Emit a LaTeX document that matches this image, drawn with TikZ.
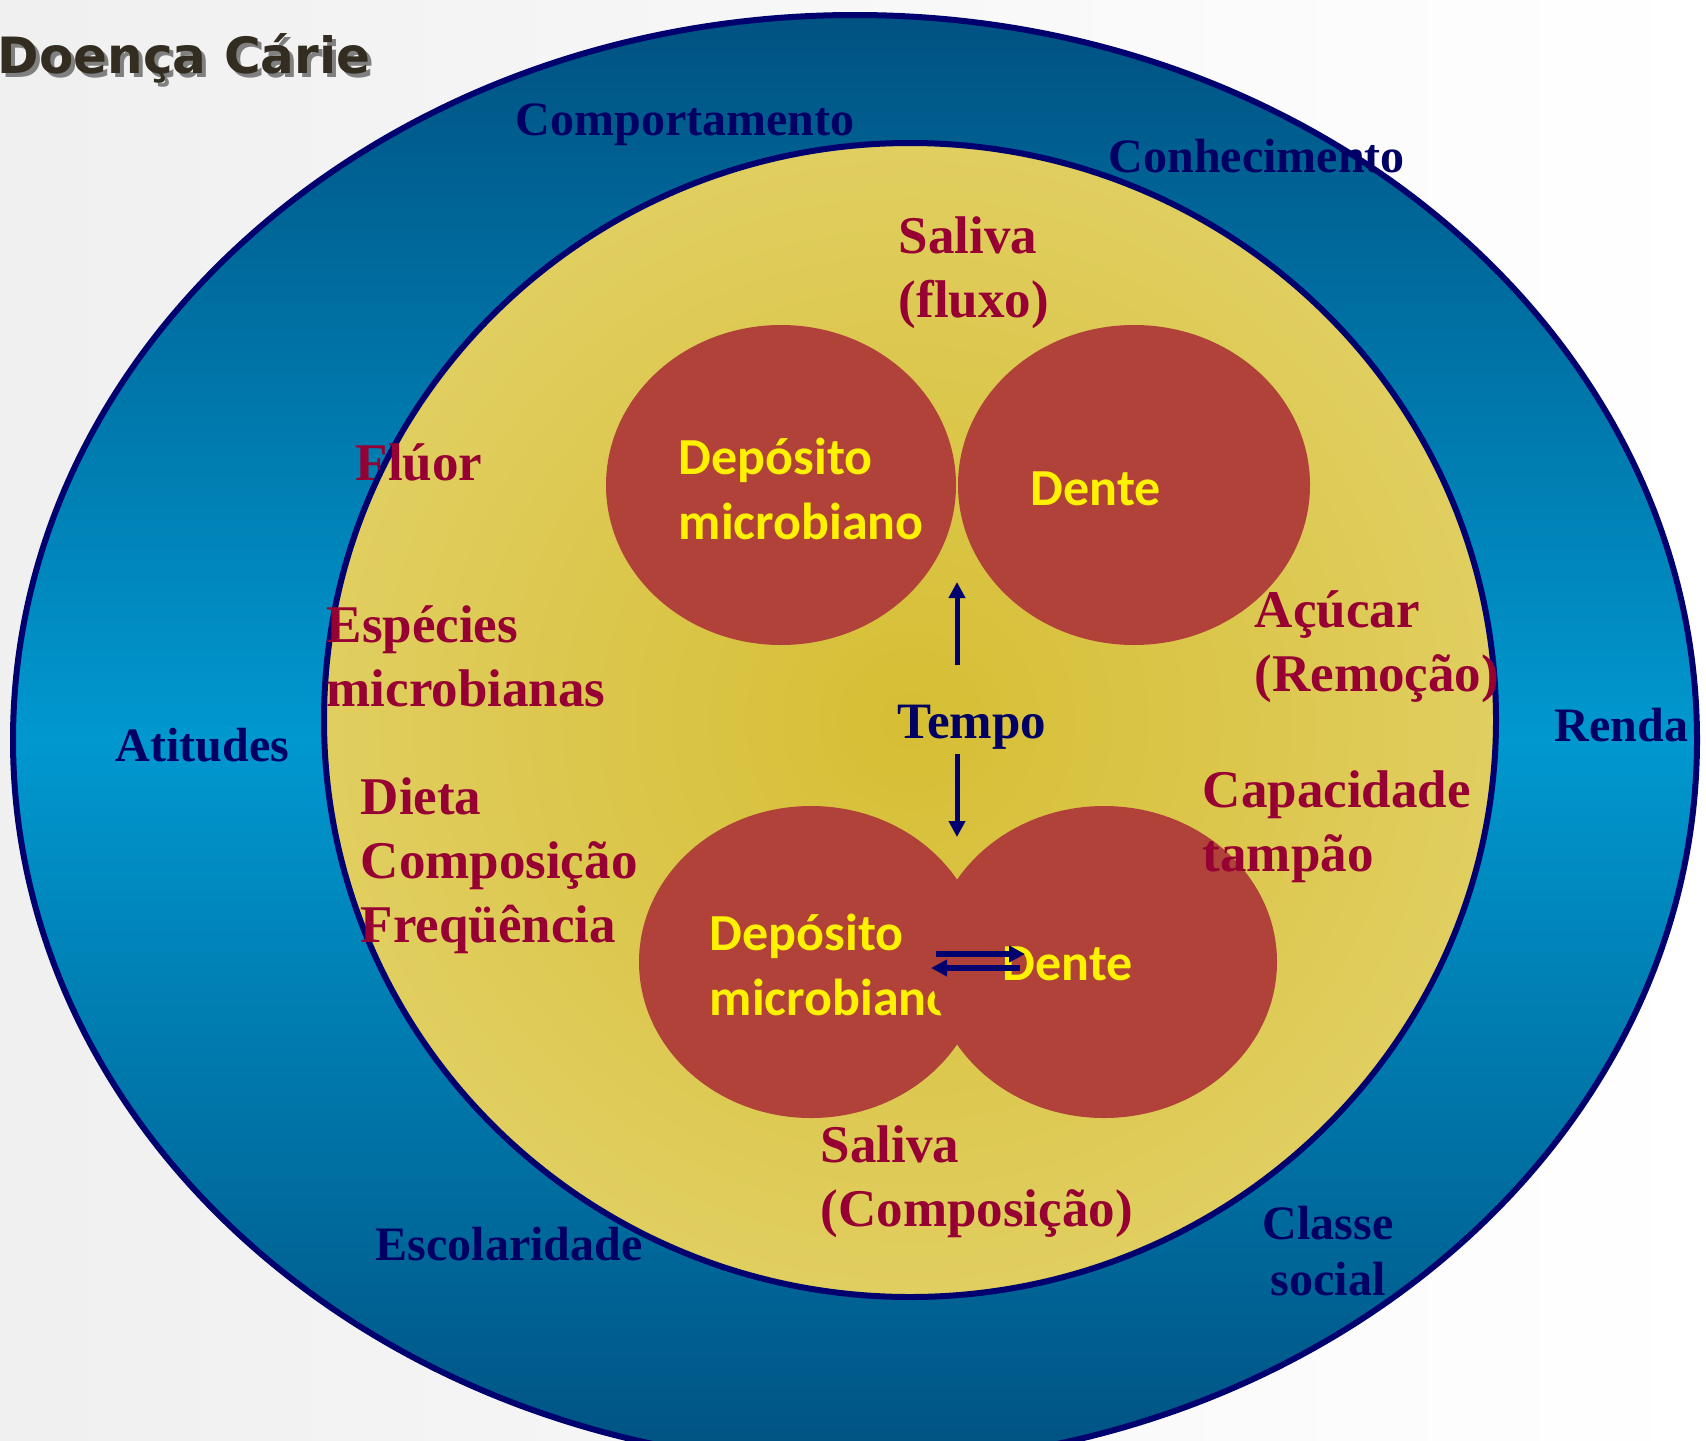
\documentclass[tikz,border=0pt]{standalone}
\usepackage{fontspec}
\setmainfont{Liberation Serif}
\newfontfamily\circlefont{Carlito}
\newfontfamily\titlefont{DejaVu Sans}
\usetikzlibrary{arrows.meta}

\definecolor{ringnavy}{RGB}{0,0,110}
\definecolor{bluetop}{RGB}{0,82,130}
\definecolor{bluemid}{RGB}{0,152,207}
\definecolor{bluebot}{RGB}{0,82,130}
\definecolor{yellowin}{RGB}{214,190,52}
\definecolor{yellowout}{RGB}{224,206,96}
\definecolor{plaquered}{RGB}{176,66,57}
\definecolor{textred}{RGB}{150,0,50}
\definecolor{textnavy}{RGB}{0,0,100}
\definecolor{titledark}{RGB}{50,45,32}

\tikzset{every picture/.style={line width=0.75pt}}
\tikzset{
  outerlabel/.style={inner sep=0pt, text=textnavy, font=\bfseries\fontsize{24}{28}\selectfont, align=center},
  innerlabel/.style={inner sep=0pt, text=textred, font=\bfseries\fontsize{26.5}{32}\selectfont, align=left},
  circlelabel/.style={inner sep=0pt, text=yellow, font=\circlefont\bfseries\fontsize{26}{32.5}\selectfont, align=left},
  flowarrow/.style={draw=ringnavy, line width=2.5pt, -{Triangle[length=8pt,width=8pt]}},
}

\begin{document}
\begin{tikzpicture}[x=0.5pt,y=0.5pt,yscale=-1,xscale=1]
	\useasboundingbox (0,0) rectangle (1706,1440);
	
	%Background
	\fill[left color=gray!12, right color=white] (0,0) rectangle (1706,1440);
	
	%Shape: Ellipse (outer ring)
	\draw[draw=ringnavy, line width=3pt, top color=bluetop, bottom color=bluebot, middle color=bluemid] (855,740) ellipse [x radius=842, y radius=725];
	%Shape: Ellipse (inner ring)
	\draw[draw=ringnavy, line width=3pt, shading=radial, inner color=yellowin, outer color=yellowout] (910,720) ellipse [x radius=586, y radius=577];
	
	%Shape: Circles (upper pair)
	\fill[plaquered] (781,485) ellipse [x radius=175, y radius=160];
	\fill[plaquered] (1134,485) ellipse [x radius=176, y radius=160];
	% Text Node
	\node[circlelabel, anchor=west] (depositoUp) at (678,489) {Depósito\\microbiano};
	% Text Node
	\node[circlelabel, anchor=west] (denteUp) at (1030,489) {Dente};
	
	%Shape: Circles (lower pair)
	\fill[plaquered] (811,962) ellipse [x radius=172, y radius=156];
	% Text Node
	\node[circlelabel, anchor=west] (depositoDown) at (709,965) {Depósito\\microbiano};
	\fill[plaquered] (1104,962) ellipse [x radius=173, y radius=156];
	% Text Node
	\node[circlelabel, anchor=west] (denteDown) at (1002,964) {Dente};
	
	%Straight Lines (exchange)
	\coordinate (swapA) at (936,954);
	\coordinate (swapB) at (1025,954);
	\coordinate (swapC) at (1020,968);
	\coordinate (swapD) at (931,968);
	\draw[flowarrow, line width=2.7pt] (swapA) -- (swapB);
	\draw[flowarrow, line width=2.7pt] (swapC) -- (swapD);
	
	% Text Node
	\node[outerlabel, font=\bfseries\fontsize{25.5}{30}\selectfont] (tempo) at (972,727) {Tempo};
	%Straight Lines (time)
	\coordinate (tempoUpFrom) at (957,665);
	\coordinate (tempoUpTo) at (957,582);
	\coordinate (tempoDownFrom) at (957,754);
	\coordinate (tempoDownTo) at (957,837);
	\draw[flowarrow] (tempoUpFrom) -- (tempoUpTo);
	\draw[flowarrow] (tempoDownFrom) -- (tempoDownTo);
	
	% Text Node
	\node[innerlabel, anchor=west] (salivaFluxo) at (898,273) {Saliva\\(fluxo)};
	% Text Node
	\node[innerlabel, anchor=west] (fluor) at (355,462) {Flúor};
	% Text Node
	\node[innerlabel, anchor=west] (especies) at (326,656) {Espécies\\microbianas};
	% Text Node
	\node[innerlabel, anchor=west] (dieta) at (360,866) {Dieta\\Composição\\Freqüência};
	% Text Node
	\node[innerlabel, anchor=west] (acucar) at (1254,647) {Açúcar\\(Remoção)};
	% Text Node
	\node[innerlabel, anchor=west] (capacidade) at (1202,827) {Capacidade\\tampão};
	% Text Node
	\node[innerlabel, anchor=west] (salivaComp) at (820,1182) {Saliva\\(Composição)};
	
	% Text Node
	\node[outerlabel, anchor=west] (comportamento) at (515,125) {Comportamento};
	% Text Node
	\node[outerlabel, anchor=west] (conhecimento) at (1108,156) {Conhecimento};
	% Text Node
	\node[outerlabel, anchor=west] (atitudes) at (115,745) {Atitudes};
	% Text Node
	\node[outerlabel, anchor=west] (renda) at (1554,725) {Renda};
	% Text Node
	\node[outerlabel, anchor=west] (escolaridade) at (375,1244) {Escolaridade};
	% Text Node
	\node[outerlabel] (classe) at (1328,1251) {Classe\\social};
	
	% Text Node (title)
	\node[anchor=east, inner sep=0pt, text=gray, font=\titlefont\bfseries\fontsize{25}{30}\selectfont] (titleShadow) at (375,62) {Doença Cárie};
	\node[anchor=east, inner sep=0pt, text=titledark, font=\titlefont\bfseries\fontsize{25}{30}\selectfont] (title) at (371,58) {Doença Cárie};
	
\end{tikzpicture}
\end{document}
